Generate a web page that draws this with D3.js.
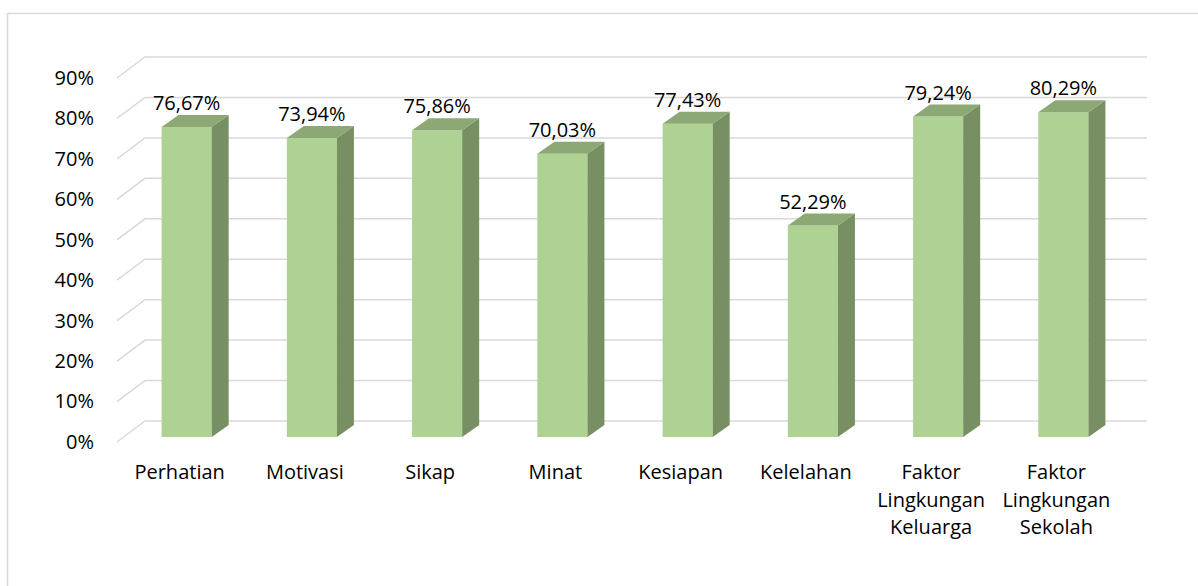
<!DOCTYPE html>
<html>
<head>
<meta charset="utf-8">
<script src="https://cdnjs.cloudflare.com/ajax/libs/d3/7.8.5/d3.min.js"></script>
<style>
  body { margin: 0; background: #fff; }
  text { font-family: "Open Sans", sans-serif; fill: #000; }
</style>
</head>
<body>
<div id="chart"></div>
<script>
// data
var categories = ["Perhatian", "Motivasi", "Sikap", "Minat", "Kesiapan", "Kelelahan",
                  "Faktor Lingkungan Keluarga", "Faktor Lingkungan Sekolah"];
var categoryLines = [["Perhatian"], ["Motivasi"], ["Sikap"], ["Minat"], ["Kesiapan"], ["Kelelahan"],
                     ["Faktor", "Lingkungan", "Keluarga"], ["Faktor", "Lingkungan", "Sekolah"]];
var values = [0.7667, 0.7394, 0.7586, 0.7003, 0.7743, 0.5229, 0.7924, 0.8029];
var yTicks = [0, 0.1, 0.2, 0.3, 0.4, 0.5, 0.6, 0.7, 0.8, 0.9];

var width = 1198, height = 586;

// 3d offsets: whole floor depth and bar depth
var gridDx = 28, gridDy = -21;
var barShiftX = 7, barShiftY = -5;
var barDx = 17, barDy = -12;

var svg = d3.select("#chart").append("svg")
    .attr("width", width)
    .attr("height", height);

// outer border
svg.append("rect")
    .attr("x", 7.5).attr("y", 13.5)
    .attr("width", 1200).attr("height", 600)
    .attr("fill", "none")
    .attr("stroke", "#d9d9d9")
    .attr("stroke-width", 1.5);

var x = d3.scaleBand()
    .domain(categories)
    .range([117, 1119])
    .paddingInner(0.6)
    .paddingOuter(0.3);

var y = d3.scaleLinear()
    .domain([0, 0.9])
    .range([442, 78]);

// gridlines: diagonal on the side wall then straight along the back wall
var grid = svg.append("g");
grid.selectAll("path")
  .data(yTicks)
  .join("path")
    .attr("d", d => "M117," + y(d) + "L" + (117 + gridDx) + "," + (y(d) + gridDy) + "H1147")
    .attr("fill", "none")
    .attr("stroke", "#d9d9d9")
    .attr("stroke-width", 1.5);

// y axis labels
var yAxis = svg.append("g")
    .attr("transform", "translate(104,0)")
    .call(d3.axisLeft(y).tickValues(yTicks).tickFormat(d3.format(".0%")).tickSize(0).tickPadding(10));
yAxis.select(".domain").remove();
yAxis.selectAll("text")
    .style("font-family", "'Open Sans', sans-serif")
    .style("font-size", "20px")
    .attr("fill", "#000");

var bars = svg.append("g").selectAll("g")
  .data(categories.map((c, i) => ({cat: c, value: values[i], lines: categoryLines[i]})))
  .join("g");

function bx(d) { return x(d.cat) + barShiftX; }
function bTop(d) { return y(d.value) + barShiftY; }
var bBottom = y(0) + barShiftY;
var bw = x.bandwidth();

// front face
bars.append("path")
    .attr("d", d => "M" + bx(d) + "," + bBottom + "V" + bTop(d) + "H" + (bx(d) + bw) + "V" + bBottom + "Z")
    .attr("fill", "#add293");

// right side
bars.append("path")
    .attr("d", d => "M" + (bx(d) + bw) + "," + bBottom + "V" + bTop(d) +
        "L" + (bx(d) + bw + barDx) + "," + (bTop(d) + barDy) +
        "V" + (bBottom + barDy) + "Z")
    .attr("fill", "#778f63");

// top
bars.append("path")
    .attr("d", d => "M" + bx(d) + "," + bTop(d) +
        "L" + (bx(d) + barDx) + "," + (bTop(d) + barDy) +
        "H" + (bx(d) + bw + barDx) +
        "L" + (bx(d) + bw) + "," + bTop(d) + "Z")
    .attr("fill", "#8ca874");

// value labels, comma as decimal mark
var fmt = d3.formatLocale({decimal: ",", thousands: ".", grouping: [3], currency: ["", ""]}).format(".2%");
bars.append("text")
    .attr("x", d => bx(d) + bw / 2)
    .attr("y", d => bTop(d) - 17)
    .attr("text-anchor", "middle")
    .style("font-size", "20px")
    .text(d => fmt(d.value));

// category labels
var catText = bars.append("text")
    .attr("text-anchor", "middle")
    .style("font-size", "20px");
catText.selectAll("tspan")
  .data(d => d.lines.map(l => ({line: l, cx: x(d.cat) + bw / 2})))
  .join("tspan")
    .attr("x", d => d.cx)
    .attr("y", (d, i) => 479 + i * 27.5)
    .text(d => d.line);
</script>
</body>
</html>
